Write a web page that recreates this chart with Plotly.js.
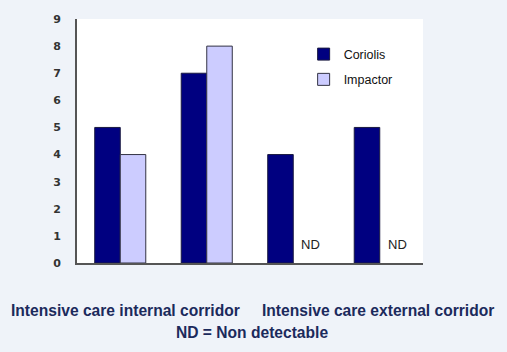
<!DOCTYPE html>
<html>
<head>
<meta charset="utf-8">
<script src="https://cdn.plot.ly/plotly-3.0.1.min.js"></script>
<style>html,body{margin:0;padding:0;background:#eff3f9;}#chart{width:507px;height:352px;}</style>
</head>
<body>
<div id="chart"></div>
<script>
var categories = ["Internal A", "Internal B", "External A", "External B"];
var coriolis = [5, 7, 4, 5];
var impactor = [4, 8, null, null];
var ndLabels = ["", "", "ND", "ND"];
var groupLabels = ["Intensive care internal corridor", "", "", "Intensive care external corridor"];
var footnote = "ND = Non detectable";
var yTicks = [0, 1, 2, 3, 4, 5, 6, 7, 8, 9];

var traces = [
  {type: "bar", name: "Coriolis", x: categories, y: coriolis, legendgroup: "a",
   marker: {color: "#000080", line: {color: "#1a1a40", width: 1}}},
  {type: "bar", name: "Impactor", x: categories, y: impactor, legendgroup: "b",
   marker: {color: "#ccccff", line: {color: "#333344", width: 1}}}
];

var annotations = [];
ndLabels.forEach(function (t, i) {
  if (t) annotations.push({xref: "x", yref: "y", x: i + 0.2, y: 0.67, text: t, showarrow: false,
    xanchor: "center", yanchor: "middle", font: {family: "Liberation Sans, Arial", size: 13, color: "#222"}});
});
groupLabels.forEach(function (t, i) {
  if (t) annotations.push({xref: "x", yref: "paper", x: i + (i === 0 ? 0.06 : -0.02), y: -0.193, text: t, showarrow: false,
    xanchor: "center", yanchor: "middle", font: {family: "Liberation Sans, Arial", size: 15.6, color: "#1b2a5c", weight: "bold"}});
});
annotations.push({xref: "paper", yref: "paper", x: 0.506, y: -0.283, text: footnote, showarrow: false,
  xanchor: "center", yanchor: "middle", font: {family: "Liberation Sans, Arial", size: 15.6, color: "#1b2a5c", weight: "bold"}});

var layout = {
  width: 507, height: 352,
  margin: {l: 77, r: 84, t: 19, b: 89},
  paper_bgcolor: "#eff3f9",
  plot_bgcolor: "#ffffff",
  barmode: "group",
  bargap: 0.41,
  bargroupgap: 0,
  showlegend: true,
  legend: {x: 0.655, y: 0.916, xanchor: "left", yanchor: "top", bgcolor: "rgba(0,0,0,0)",
    traceorder: "grouped", tracegroupgap: 6,
    font: {family: "Liberation Sans, Arial", size: 12.5, color: "#111"}},
  xaxis: {type: "category", range: [-0.5, 3.5], autorange: false, showticklabels: false, showline: true,
    linecolor: "#555", linewidth: 2, showgrid: false, zeroline: false, ticks: "", fixedrange: true},
  yaxis: {range: [0, 9], autorange: false, tickvals: yTicks, showline: true, linecolor: "#555", linewidth: 2,
    showgrid: false, zeroline: false, ticks: "outside", ticklen: 12, tickcolor: "rgba(0,0,0,0)",
    tickfont: {family: "DejaVu Sans", size: 11, color: "#333", weight: "bold"}},
  annotations: annotations
};

Plotly.newPlot("chart", traces, layout, {displayModeBar: false, staticPlot: true});
</script>
</body>
</html>
